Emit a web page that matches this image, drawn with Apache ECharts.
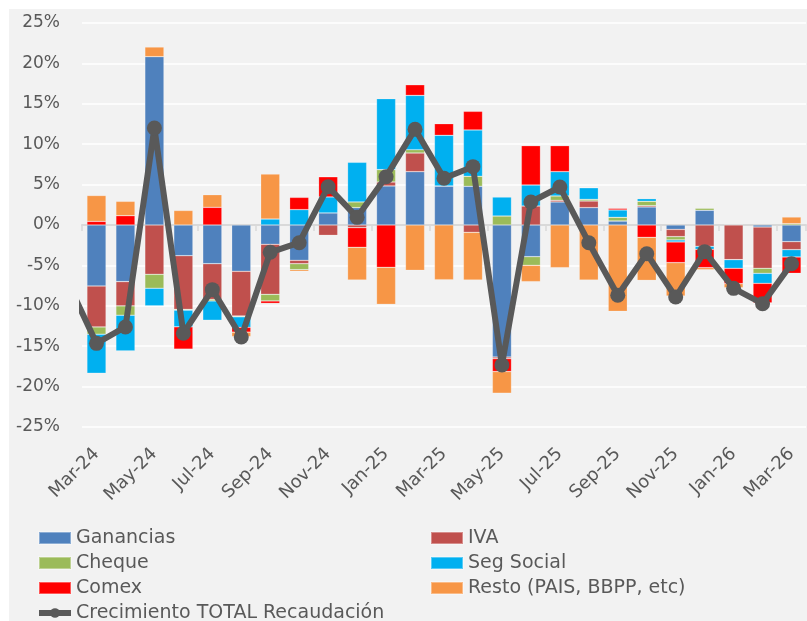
<!DOCTYPE html>
<html>
<head>
<meta charset="utf-8">
<script src="https://cdn.jsdelivr.net/npm/echarts@6/dist/echarts.min.js"></script>
<style>
	html, body { margin: 0; padding: 0; background: #fff; }
	#chart {
		position: absolute;
		left: 9px;
		top: 9px;
		width: 798px;
		height: 612px;
		background: #f2f2f2;
	}
</style>
</head>
<body>
<div id="chart"></div>
<script>
/*月份*/
var months = ['Mar-24', 'Apr-24', 'May-24', 'Jun-24', 'Jul-24', 'Aug-24', 'Sep-24', 'Oct-24', 'Nov-24', 'Dec-24',
	'Jan-25', 'Feb-25', 'Mar-25', 'Apr-25', 'May-25', 'Jun-25', 'Jul-25', 'Aug-25', 'Sep-25', 'Oct-25',
	'Nov-25', 'Dec-25', 'Jan-26', 'Feb-26', 'Mar-26'];

/*aportes por impuesto (pp)*/
var ganancias = [-7.55, -7.01, 20.83, -3.8, -4.79, -5.73, -2.39, -4.37, 1.49, 2.15, 4.83, 6.6, 4.83, 4.79, -16.34, -3.92, 2.85, 2.15, 0.5, 2.23, -0.54, 1.82, 0, -0.25, -2.06];
var iva = [-5.07, -3.0, -6.1, -6.64, -4.41, -5.53, -6.19, -0.42, -1.28, -0.33, 0.49, 2.31, 0, -0.91, -0.2, 2.35, 0.2, 0.82, 0, 0.16, -0.9, -2.64, -4.29, -5.11, -0.99];
var cheque = [-0.9, -1.16, -1.73, -0.1, -0.2, -0.1, -0.82, -0.74, -0.08, 0.7, 1.53, 0.41, 0, 1.24, 1.11, -1.07, 0.54, 0.2, 0.45, 0.54, -0.41, 0.25, 0, -0.62, 0.16];
var segSocial = [-4.83, -4.41, -2.19, -2.06, -2.39, -1.3, 0.74, 1.9, 1.98, 4.91, 8.79, 6.72, 6.27, 5.73, 2.35, 2.6, 3.01, 1.45, 0.91, 0.33, -0.25, -0.37, -1.07, -1.24, -0.91];
var comex = [0.45, 1.15, 0, -2.76, 2.19, -0.6, -0.3, 1.52, 2.51, -2.43, -5.24, 1.32, 1.44, 2.31, -1.6, 4.87, 3.22, 0, 0.2, -1.53, -2.56, -2.27, -1.9, -2.43, -2.02];
var resto = [3.2, 1.78, 1.2, 1.8, 1.56, -0.55, 5.57, -0.2, 0, -4.05, -4.58, -5.61, -6.77, -5.9, -2.68, -2.02, -5.28, -6.81, -10.69, -5.32, -4.13, -0.25, -0.5, 0, 0.83];

/*crecimiento total; el primer valor es Feb-24, fuera del eje*/
var totalPrev = -7.0;
var total = [-14.65, -12.62, 12.0, -13.4, -8.0, -13.86, -3.38, -2.19, 4.74, 0.95, 5.98, 11.84, 5.78, 7.22, -17.33, 2.85, 4.7, -2.19, -8.7, -3.55, -8.91, -3.3, -7.84, -9.74, -4.79];

var yTicks = { min: -25, max: 25, interval: 5 };

var fontName = 'DejaVu Sans';
var textColor = '#595959';
var lineName = 'Crecimiento TOTAL Recaudación';

var myChart = echarts.init(document.getElementById('chart'));

function barSeries(name, data, color) {
	return {
		name: name,
		type: 'bar',
		stack: 'total',
		xAxisIndex: 0,
		barWidth: '66%',
		data: data,
		itemStyle: {
			color: color,
			borderColor: 'rgba(255,255,255,0.35)',
			borderWidth: 0.6
		}
	};
}

// línea con un punto previo recortado por el borde izquierdo
var lineData = [[-1, totalPrev]];
total.forEach(function (v, i) {
	lineData.push([i, v]);
});

var legendBase = {
	orient: 'vertical',
	top: 519,
	height: 110,
	padding: 0,
	itemWidth: 32,
	itemHeight: 12,
	itemGap: 5,
	itemTextGap: 3,
	textStyle: {
		color: textColor,
		fontFamily: fontName,
		fontSize: 19,
		lineHeight: 20
	}
};

var option = {
	animation: false,
	grid: {
		left: 73,
		right: 1,
		top: 14,
		bottom: 194,
		containLabel: false
	},
	legend: [
		Object.assign({}, legendBase, {
			left: 27,
			data: [
				{ name: 'Ganancias', icon: 'rect' },
				{ name: 'Cheque', icon: 'rect' },
				{ name: 'Comex', icon: 'rect' },
				{ name: lineName, lineStyle: { width: 6 } }
			]
		}),
		Object.assign({}, legendBase, {
			left: 421,
			data: [
				{ name: 'IVA', icon: 'rect' },
				{ name: 'Seg Social', icon: 'rect' },
				{ name: 'Resto (PAIS, BBPP, etc)', icon: 'rect' }
			]
		})
	],
	xAxis: [{
		type: 'category',
		position: 'bottom',
		data: months,
		axisLine: { show: false, onZero: false },
		axisTick: { show: false },
		axisLabel: {
			interval: 1,
			rotate: 45,
			margin: 24,
			color: textColor,
			fontFamily: fontName,
			fontSize: 18
		}
	}, {
		type: 'category',
		position: 'top',
		data: months,
		axisLine: {
			show: true,
			onZero: true,
			lineStyle: { color: '#d9d9d9', width: 2 }
		},
		axisTick: {
			show: true,
			inside: true,
			interval: 1,
			length: 6,
			lineStyle: { color: '#d9d9d9', width: 1.5 }
		},
		axisLabel: { show: false }
	}, {
		type: 'value',
		min: -0.5,
		max: 24.5,
		show: false
	}],
	yAxis: {
		type: 'value',
		min: yTicks.min,
		max: yTicks.max,
		interval: yTicks.interval,
		axisLine: { show: false },
		axisTick: { show: false },
		axisLabel: {
			formatter: '{value}%',
			color: textColor,
			fontFamily: fontName,
			fontSize: 17,
			margin: 22
		},
		splitLine: {
			show: true,
			lineStyle: { color: '#ffffff', width: 1.5 }
		}
	},
	series: [
		barSeries('Ganancias', ganancias, '#4f81bd'),
		barSeries('IVA', iva, '#c0504d'),
		barSeries('Cheque', cheque, '#9bbb59'),
		barSeries('Seg Social', segSocial, '#00b0f0'),
		barSeries('Comex', comex, '#ff0000'),
		barSeries('Resto (PAIS, BBPP, etc)', resto, '#f79646'),
		{
			name: lineName,
			type: 'line',
			xAxisIndex: 2,
			clip: true,
			z: 5,
			symbol: 'circle',
			symbolSize: 15,
			data: lineData,
			lineStyle: { color: '#595959', width: 6 },
			itemStyle: { color: '#595959' }
		}
	]
};

myChart.setOption(option);
</script>
</body>
</html>
